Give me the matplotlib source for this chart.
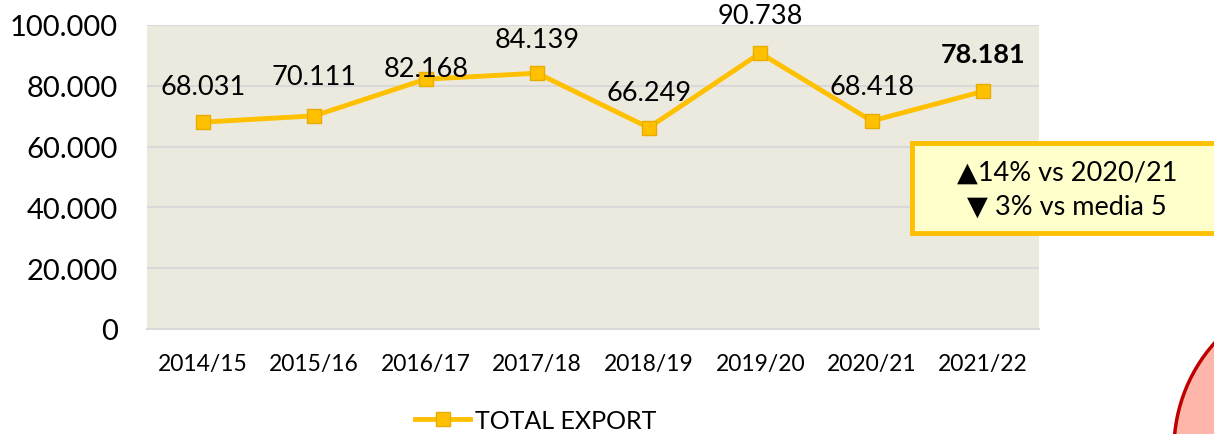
import matplotlib
matplotlib.use("Agg")
import matplotlib.pyplot as plt
import matplotlib.patches as patches
from matplotlib.ticker import FuncFormatter

plt.rcParams['font.family'] = ['Lato', 'DejaVu Sans']

seasons = ["2014/15", "2015/16", "2016/17", "2017/18", "2018/19", "2019/20", "2020/21", "2021/22"]
total_export = [68031, 70111, 82168, 84139, 66249, 90738, 68418, 78181]
label_texts = ["68.031", "70.111", "82.168", "84.139", "66.249", "90.738", "68.418", "78.181"]
y_ticks = [0, 20000, 40000, 60000, 80000, 100000]
box_lines = ["\u25B214% vs 2020/21", "\u25BC 3% vs media 5"]

# label offsets above each point (points)
label_offsets = [26, 28, 7.5, 24.5, 25, 27, 25, 27]

gold = "#FFC000"

fig = plt.figure(figsize=(12.14, 4.35), dpi=100)
ax = fig.add_axes([0.1211, 0.2414, 0.7347, 0.6989])
ax.set_facecolor("#ECE9DF")

x = list(range(len(seasons)))
ax.plot(x, total_export, color=gold, lw=3.5, marker="s", markersize=10,
        markerfacecolor=gold, markeredgecolor="#E8AC00", markeredgewidth=1,
        label="TOTAL EXPORT", zorder=3)

for i, (v, t) in enumerate(zip(total_export, label_texts)):
    bold = i == len(total_export) - 1
    ax.annotate(t, (i, v), xytext=(0, label_offsets[i]), textcoords="offset points",
                ha="center", va="center", fontsize=19.5,
                fontweight="bold" if bold else "normal", color="black")

ax.set_xlim(-0.5, len(seasons) - 0.5)
ax.set_ylim(0, 100000)
ax.set_yticks(y_ticks)
ax.yaxis.set_major_formatter(FuncFormatter(lambda v, p: f"{int(v):,}".replace(",", ".")))
ax.set_xticks(x)
ax.set_xticklabels(seasons)
ax.tick_params(axis="y", length=0, pad=21, labelsize=21)
ax.tick_params(axis="x", length=0, pad=17, labelsize=16.5)
ax.grid(axis="y", color="#D9D9D9", lw=1.5)
ax.set_axisbelow(True)
for s in ["left", "right", "top"]:
    ax.spines[s].set_visible(False)
ax.spines["bottom"].set_color("#D9D9D9")
ax.spines["bottom"].set_linewidth(1.5)

fig.legend(loc="center", bbox_to_anchor=(0.4415, 0.032), frameon=False, fontsize=18,
           handlelength=2.2, handletextpad=0.2)

# callout box
W, H = 1214, 435
box = patches.Rectangle((912 / W, (H - 234) / H), 320 / W, 90 / H, transform=fig.transFigure,
                        facecolor="#FFFFCC", edgecolor=gold, lw=3.5, clip_on=False)
fig.add_artist(box)
fig.text(1067 / W, (H - 173) / H, box_lines[0], ha="center", va="center", fontsize=19.5)
fig.text(1067 / W, (H - 207) / H, box_lines[1], ha="center", va="center", fontsize=19.5)

# red circle peeking at bottom right
circ = patches.Circle((13.33, -0.15), 1.59, transform=fig.dpi_scale_trans,
                      facecolor="#FFB6AA", edgecolor="#C00000", lw=2.5, clip_on=False)
fig.add_artist(circ)

fig.savefig("out.png", dpi=100)
